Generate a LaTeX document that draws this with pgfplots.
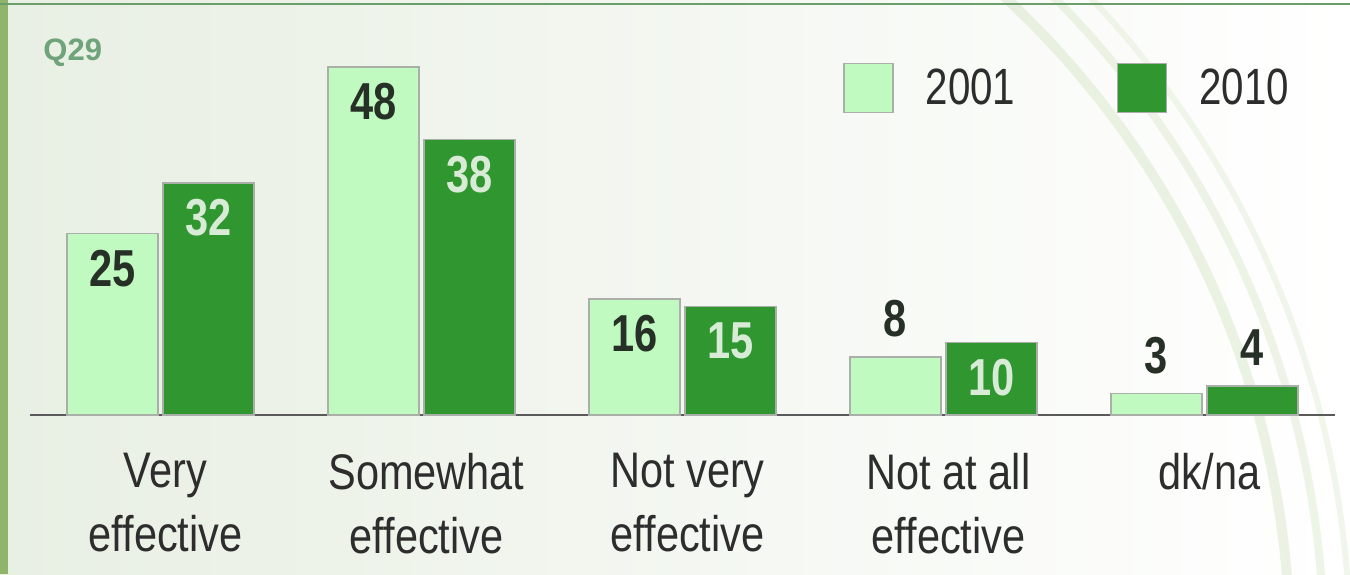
\documentclass[border=0pt]{standalone}
\usepackage{fontspec}
\setmainfont{Liberation Sans}
\newfontfamily\catfont[FakeStretch=0.83]{Liberation Sans}
\newfontfamily\legfont[FakeStretch=0.79]{Liberation Sans}
\newfontfamily\numfont[FakeStretch=0.8]{Liberation Sans}
\usepackage{pgfplots}
\pgfplotsset{compat=1.18}
\definecolor{lightbar}{RGB}{192,250,192}
\definecolor{darkbar}{RGB}{48,150,48}
\definecolor{barborder}{RGB}{170,175,170}
\definecolor{txt}{RGB}{45,45,45}
\definecolor{numdark}{RGB}{38,48,38}
\definecolor{numlight}{RGB}{215,235,215}
\definecolor{qgreen}{RGB}{111,163,122}
\definecolor{bgleft}{RGB}{232,239,227}
\definecolor{framegreen}{RGB}{143,180,106}
\definecolor{topline}{RGB}{107,158,107}
\definecolor{axisgray}{RGB}{90,90,90}
\definecolor{swirl}{RGB}{200,222,180}
\begin{document}
\begin{tikzpicture}[x=1pt,y=1pt]
\path[use as bounding box] (0,0) rectangle (675,287);
\shade[left color=bgleft, middle color=bgleft!60!white, right color=white] (0,0) rectangle (675,287);
\begin{scope}
\clip (0,0) rectangle (675,287);
\draw[swirl, opacity=0.35, line width=5pt] (200,-38) circle (445);
\draw[swirl, opacity=0.3, line width=4pt] (200,-38) circle (462);
\draw[swirl, opacity=0.25, line width=3pt] (200,-38) circle (475);
\end{scope}
\fill[framegreen] (0,0) rectangle (4,287);
\draw[topline, line width=0.9pt] (0,285) -- (675,285);
\begin{axis}[
  at={(15pt,79.5pt)}, anchor=south west,
  scale only axis, width=652.5pt, height=199.375pt,
  xmin=-0.5, xmax=4.5, ymin=0, ymax=55,
  ybar=2.5pt, bar width=45.5pt,
  axis y line=none,
  axis x line=bottom,
  x axis line style={-, draw=axisgray, line width=0.75pt},
  xtick={0,1,2,3,4},
  xticklabels={Very\\effective, Somewhat\\effective, Not very\\effective, Not at all\\effective, dk/na},
  major tick length=0pt,
  xticklabel style={align=center, text=txt, font=\catfont\fontsize{25}{32}\selectfont, xshift=2.5pt, yshift=-15.5pt},
  clip=false,
  /pgf/number format/assume math mode=true,
  visualization depends on={y \as \rawy},
  every node near coord/.append style={anchor=center, font=\numfont\bfseries\fontsize{26}{26}\selectfont, text=numdark, yshift={\rawy>9 ? -17.5 : 19}},
  legend columns=2,
  legend style={at={(0.623,0.82)}, anchor=west, draw=none, fill=none, inner sep=0pt,
    font=\legfont\fontsize{25.5}{25.5}\selectfont, text=txt,
    /tikz/every odd column/.append style={column sep=14pt},
    /tikz/every even column/.append style={column sep=49pt}},
]
\addplot[fill=lightbar, draw=barborder, line width=0.6pt,
  legend image code/.code={\draw[fill=lightbar, draw=barborder, line width=0.6pt] (0pt,-12.25pt) rectangle (24.5pt,12.25pt);},
  nodes near coords={\pgfmathprintnumber{\pgfplotspointmeta}}]
  coordinates {(0,25) (1,48) (2,16) (3,8) (4,3)};
\addplot[fill=darkbar, draw=barborder, line width=0.6pt,
  legend image code/.code={\draw[fill=darkbar, draw=barborder, line width=0.6pt] (0pt,-12.25pt) rectangle (24.5pt,12.25pt);},
  nodes near coords={\pgfmathtruncatemacro\flag{\rawy>9}\ifnum\flag=1 \color{numlight}\fi\pgfmathprintnumber{\pgfplotspointmeta}}]
  coordinates {(0,32) (1,38) (2,15) (3,10) (4,4)};
\legend{2001,2010}
\end{axis}
\node[anchor=base west, inner sep=0pt, text=qgreen, font=\bfseries\fontsize{15.5}{15.5}\selectfont] at (21.5,256.5) {Q29};
\end{tikzpicture}
\end{document}
